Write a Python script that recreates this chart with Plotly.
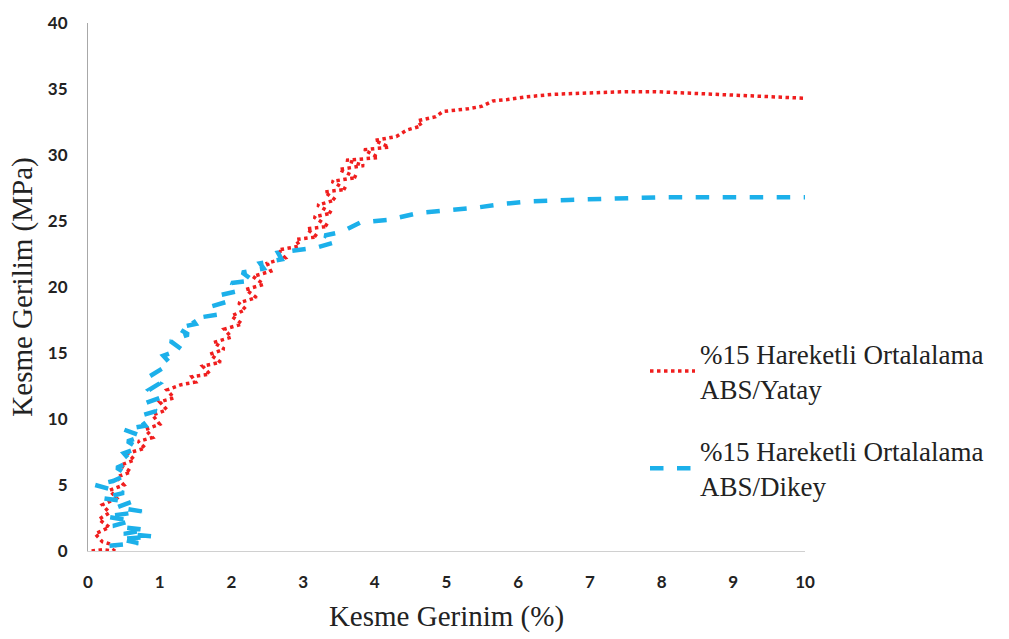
import plotly.graph_objects as go

# Red series: %15 Hareketli Ortalalama ABS/Yatay
yatay_x = [0.05, 0.2, 0.35, 0.4, 0.2, 0.1, 0.3, 0.15, 0.3, 0.2, 0.4, 0.3, 0.5, 0.4, 0.6, 0.45, 0.65, 0.55,
           0.8, 0.7, 0.9, 0.8, 1.0, 0.9, 1.1, 1.0, 1.2, 1.1, 1.3, 1.5, 1.45, 1.7, 1.6, 1.85, 1.7, 1.9, 1.75,
           2.0, 1.9, 2.15, 2.0, 2.2, 2.1, 2.35, 2.2, 2.45, 2.3, 2.55, 2.5, 2.75, 2.65, 2.95, 2.9, 3.2, 3.05,
           3.35, 3.15, 3.4, 3.2, 3.45, 3.3, 3.6, 3.4, 3.75, 3.5, 3.85, 3.6, 4.05, 3.85, 4.2, 4.0, 4.3, 4.45,
           4.65, 4.6, 4.85, 4.95, 5.3, 5.5, 5.65, 5.85, 6.1, 6.5, 7.0, 7.5, 7.9, 8.3, 8.8, 9.3, 9.7, 10.0]
yatay_y = [0.0, 0.1, 0.0, 0.4, 0.7, 1.3, 1.8, 2.4, 2.9, 3.5, 4.0, 4.6, 5.0, 5.6, 6.0, 6.5, 6.9, 7.4,
           7.8, 8.3, 8.6, 9.2, 9.6, 10.3, 10.7, 11.3, 11.6, 12.2, 12.6, 12.8, 13.2, 13.4, 14.0, 14.3, 14.9, 15.3, 15.8,
           16.2, 16.8, 17.2, 17.8, 18.3, 18.8, 19.2, 19.8, 20.2, 20.8, 21.2, 21.8, 22.2, 22.8, 23.1, 23.6, 23.8, 24.4,
           24.6, 25.3, 25.6, 26.2, 26.6, 27.2, 27.4, 28.0, 28.3, 28.9, 29.2, 29.6, 29.8, 30.4, 30.6, 31.1, 31.4, 31.9,
           32.2, 32.6, 32.9, 33.3, 33.5, 33.7, 34.1, 34.2, 34.4, 34.6, 34.7, 34.8, 34.8, 34.7, 34.6, 34.5, 34.4, 34.3]

# Blue series: %15 Hareketli Ortalalama ABS/Dikey
dikey_x = [0.3, 0.7, 0.45, 0.9, 0.5, 0.8, 0.35, 0.6, 0.25, 0.75, 0.4, 0.6, 0.2, 0.5, 0.1, 0.35, 0.55, 0.4,
           0.6, 0.5, 0.7, 0.55, 0.75, 0.5, 0.8, 0.7, 0.95, 0.8, 1.0, 0.85, 1.0, 0.85, 1.0, 1.15, 1.05, 1.3,
           1.15, 1.4, 1.25, 1.5, 1.45, 1.8, 1.7, 1.95, 1.85, 2.1, 2.0, 2.3, 2.15, 2.45, 2.4, 2.7, 2.65, 3.0,
           3.2, 3.45, 3.3, 3.55, 3.8, 4.2, 4.6, 5.0, 5.4, 5.8, 6.2, 6.7, 7.3, 8.0, 8.7, 9.4, 10.0]
dikey_y = [0.4, 0.6, 0.9, 1.1, 1.3, 1.6, 1.9, 2.3, 2.6, 3.0, 3.3, 3.7, 4.0, 4.4, 5.0, 5.3, 5.8, 6.3,
           6.8, 7.4, 7.8, 8.3, 8.7, 9.2, 9.5, 10.2, 10.6, 11.2, 11.6, 12.2, 12.7, 13.2, 13.7, 14.2, 14.8, 15.3,
           15.9, 16.4, 16.9, 17.2, 17.6, 17.9, 18.5, 18.9, 19.4, 19.7, 20.3, 20.5, 21.1, 21.4, 21.8, 22.1, 22.6, 22.8,
           23.0, 23.4, 23.9, 24.2, 24.9, 25.1, 25.6, 25.8, 26.0, 26.3, 26.5, 26.6, 26.7, 26.8, 26.8, 26.8, 26.8]

x_ticks = [0, 1, 2, 3, 4, 5, 6, 7, 8, 9, 10]
y_ticks = [0, 5, 10, 15, 20, 25, 30, 35, 40]

fig = go.Figure()
fig.add_trace(go.Scatter(
    x=yatay_x, y=yatay_y, mode="lines",
    name="%15 Hareketli Ortalalama<br>ABS/Yatay", legendgroup="a",
    line=dict(color="#F01E1E", width=3.5, dash="dot"),
))
fig.add_trace(go.Scatter(
    x=dikey_x, y=dikey_y, mode="lines",
    name="%15 Hareketli Ortalalama<br>ABS/Dikey", legendgroup="b",
    line=dict(color="#1CB0EA", width=4.5, dash="dash"),
))

tick_font = dict(family="Lato", size=17, color="#222222", weight="bold")
title_font = dict(family="Liberation Serif", size=29, color="#222222")

fig.update_layout(
    width=1009, height=639,
    margin=dict(l=88, r=204, t=17, b=88),
    paper_bgcolor="white", plot_bgcolor="white",
    hovermode=False,
    legend=dict(
        x=(645 - 88) / 717, xanchor="left",
        y=(551 - 327) / 534, yanchor="top",
        font=dict(family="Liberation Serif", size=27, color="#222222"),
        itemwidth=45, tracegroupgap=24,
        bgcolor="rgba(0,0,0,0)",
    ),
    xaxis=dict(
        range=[0, 10], tickvals=x_ticks, ticktext=[str(v) for v in x_ticks],
        showgrid=False, zeroline=False, showline=True, linecolor="#D0D0D0", linewidth=1,
        ticks="", tickfont=tick_font, ticklabelstandoff=16,
        title=dict(text="Kesme Gerinim (%)", font=title_font, standoff=14),
    ),
    yaxis=dict(
        range=[0, 40], tickvals=y_ticks, ticktext=[str(v) for v in y_ticks],
        showgrid=False, zeroline=False, showline=True, linecolor="#A8A8A8", linewidth=1,
        ticks="", tickfont=tick_font, ticklabelstandoff=16,
        title=dict(text="Kesme Gerilim (MPa)", font=title_font, standoff=6),
    ),
)

fig.write_html("out.html")
